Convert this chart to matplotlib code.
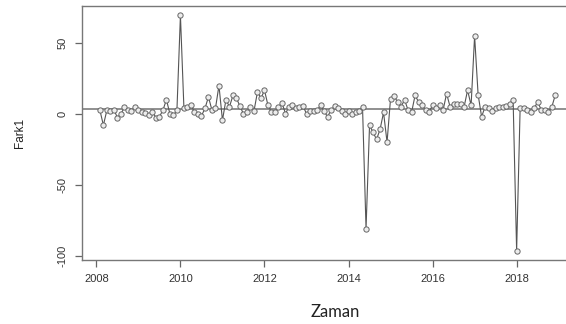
#!/usr/bin/env python3
# -*- coding: utf-8 -*-
"""
Fark1 serisi: aylik farklar (Subat 2008 - Aralik 2018), R tarzinda cizim
"""

import numpy as np
import matplotlib
matplotlib.use('Agg')
import matplotlib.pyplot as plt

plt.rcParams['font.family'] = ['Liberation Sans', 'DejaVu Sans']

# Aylik degerler (Subat 2008'den baslar)
fark_2008 = [2.6, -8, 2.6, 2, 3, -2.6, 0, 4.5, 2.6, 2, 4.5]
fark_2009 = [2.6, 1.5, 0.7, -0.5, 1.5, -2.6, -2, 2.6, 10, 0, -1, 2.6]
fark_2010 = [69.5, 3.8, 4.5, 6, 1.5, 0, -1.4, 3.8, 12, 2.6, 3.8, 20]
fark_2011 = [-4.5, 10, 5, 13, 11, 5.4, 0, 1.5, 4.5, 2, 15.5, 11]
fark_2012 = [16.7, 6, 1.5, 1.5, 5, 7.7, 0.2, 5, 6, 3.8, 5, 5.4]
fark_2013 = [0.2, 1.9, 1.9, 2.6, 6, 1.9, -2, 2.6, 5.4, 3.8, 1.9, 0.2]
fark_2014 = [1.9, 0.2, 1.4, 1.9, 4.5, -81, -8, -13, -18, -11, 1, -20]
fark_2015 = [10.8, 12.4, 8.5, 5, 10, 2.6, 1, 13, 8.5, 6.6, 2.6, 1.4]
fark_2016 = [6, 3.8, 6, 2.6, 14.3, 5, 7.3, 7.3, 7.3, 5, 16.7, 6]
fark_2017 = [55, 13.6, -2, 5, 3.8, 2, 3.8, 4.5, 5, 5.4, 7.3, 9.6]
fark_2018 = [-96.5, 3.8, 3.8, 2.6, 1.4, 3.8, 8.5, 3, 2.6, 1.4, 4.5, 13]

ortalama = 3.1  # yatay referans cizgisi

baslangic_yil = 2008
baslangic_ay = 2  # Subat

x_ticks = [2008, 2010, 2012, 2014, 2016, 2018]
y_ticks = [-100, -50, 0, 50]


def main():
    fark1 = np.array(fark_2008 + fark_2009 + fark_2010 + fark_2011 + fark_2012
                     + fark_2013 + fark_2014 + fark_2015 + fark_2016
                     + fark_2017 + fark_2018)
    zaman = baslangic_yil + (baslangic_ay - 1 + np.arange(len(fark1))) / 12.0

    fig = plt.figure(figsize=(5.66, 3.24), dpi=100)
    # eksen sag kenari resmin disina tasiyor (orijinalde kirpilmis)
    ax = fig.add_axes([0.1443, 0.1975, 0.8687, 0.7840])

    ax.axhline(ortalama, color='#8f8f8f', linewidth=1.4, zorder=1)
    ax.plot(zaman, fark1, '-', color='#555555', linewidth=0.8, zorder=2)
    ax.plot(zaman, fark1, 'o', markersize=3.8, markerfacecolor='#ececec',
            markeredgecolor='#666666', markeredgewidth=0.7, zorder=3)

    # R varsayilani: %4 genisletme
    xr = zaman.max() - zaman.min()
    ax.set_xlim(zaman.min() - 0.04 * xr, zaman.max() + 0.04 * xr)
    yr = fark1.max() - fark1.min()
    ax.set_ylim(fark1.min() - 0.04 * yr, fark1.max() + 0.04 * yr)

    ax.set_xticks(x_ticks)
    ax.set_yticks(y_ticks)
    ax.set_yticklabels([str(v) for v in y_ticks], rotation=90, va='center')
    ax.tick_params(direction='out', length=5, width=0.9, colors='#666666',
                   labelcolor='#333333', labelsize=8, pad=5)
    for sp in ax.spines.values():
        sp.set_color('#777777')
        sp.set_linewidth(1.0)

    fig.text(20 / 566, 1 - 133 / 324, 'Fark1', rotation=90, ha='center',
             va='center', fontsize=8.5, color='#222222')
    fig.text(335 / 566, 1 - 312 / 324, 'Zaman', ha='center', va='center',
             fontsize=12, color='#222222', family=['Lato', 'DejaVu Sans'])

    fig.savefig('out.png', dpi=100)
    plt.close(fig)


if __name__ == "__main__":
    main()
